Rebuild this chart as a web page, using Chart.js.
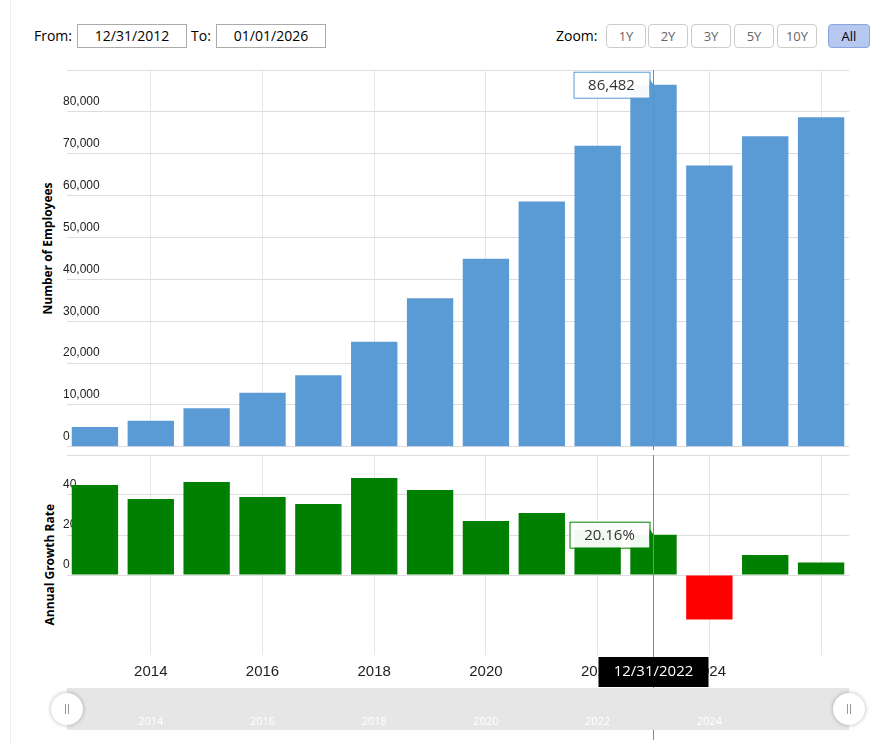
<!DOCTYPE html>
<html><head><meta charset="utf-8">
<script src="https://cdn.jsdelivr.net/npm/chart.js@4"></script>
<style>
body{margin:0;width:881px;height:745px;background:#fff;font-family:"Open Sans",sans-serif;position:relative;overflow:hidden}
.ctl{position:absolute;font-size:14px;color:#000}
.box{position:absolute;border:1px solid #aaa;font-size:14px;text-align:center;line-height:22px;height:22px}
.zb{position:absolute;top:24px;height:22px;width:38px;border:1px solid #ccc;border-radius:4px;font-size:13px;text-align:center;line-height:22px;color:#666;background:#fff}
canvas{position:absolute;left:0}
.ttl{position:absolute;font-size:12px;font-weight:bold;transform:rotate(-90deg);transform-origin:center;white-space:nowrap}
#leftline{position:absolute;left:10px;top:0;width:1px;height:745px;background:#eee}
</style></head><body>
<div id="leftline"></div>
<div class="ctl" style="left:34px;top:26px">From:</div>
<div class="box" style="left:77px;top:24px;width:108px">12/31/2012</div>
<div class="ctl" style="left:191px;top:26px">To:</div>
<div class="box" style="left:216px;top:24px;width:108px">01/01/2026</div>
<div class="ctl" style="left:556px;top:26px">Zoom:</div>
<div class="zb" style="left:606px">1Y</div>
<div class="zb" style="left:648px">2Y</div>
<div class="zb" style="left:691px">3Y</div>
<div class="zb" style="left:734px">5Y</div>
<div class="zb" style="left:777px">10Y</div>
<div class="zb" style="left:828px;width:40px;background:#b6c8f0;border-color:#8aa4dc;color:#000">All</div>
<div class="ttl" style="left:-13px;top:246px;width:120px;text-align:center">Number of Employees</div>
<div class="ttl" style="left:-6px;top:562px;width:110px;text-align:center">Annual Growth Rate</div>
<canvas id="c1" width="881" height="390" style="top:60px;width:881px;height:390px"></canvas>
<canvas id="c2" width="881" height="295" style="top:445px;width:881px;height:295px"></canvas>
<script>
const dates = ['12/31/2012','12/31/2013','12/31/2014','12/31/2015','12/31/2016','12/31/2017','12/31/2018','12/31/2019','12/31/2020','12/31/2021','12/31/2022','12/31/2023','12/31/2024','12/31/2025'];
const yearTicks = ['','2014','','2016','','2018','','2020','','2022','','2024','',''];
const employees = [4700,6200,9200,12900,17100,25100,35500,44900,58600,71900,86482,67200,74200,78700];
const growth = [45,38,46.5,39,35.5,48.5,42.5,27,31,22.7,20.16,-22.2,10,6.2];
const hoverIndex = 10;

const PL = 67, PR = 32;
const gridColor = (ctx) => (ctx.index % 2 === 1 ? '#e6e6e6' : 'rgba(0,0,0,0)');

function crosshair(label, fmt, boxW) {
    return {
        id:'cross',
        afterDraw(chart) {
            const c = chart.ctx;
            const el = chart.getDatasetMeta(0).data[hoverIndex];
            const a = chart.chartArea;
            c.save();
            c.strokeStyle = '#888'; c.lineWidth = 1;
            c.beginPath(); c.moveTo(el.x, a.top); c.lineTo(el.x, chart.height); c.stroke();
            const v = chart.data.datasets[0].data[hoverIndex];
            const py = chart.scales.y.getPixelForValue(v);
            const bx = el.x - boxW - 4, by = py - 13;
            c.fillStyle = 'rgba(255,255,255,0.95)';
            c.strokeStyle = label;
            c.fillRect(bx, by, boxW, 26);
            c.strokeRect(bx + 0.5, by + 0.5, boxW, 26);
            c.fillStyle = label;
            c.beginPath(); c.moveTo(bx + boxW, py - 6); c.lineTo(el.x, py); c.lineTo(bx + boxW, py + 6); c.fill();
            c.fillStyle = '#333'; c.font = '15px "Open Sans"'; c.textAlign = 'center'; c.textBaseline = 'middle';
            c.fillText(fmt(v), bx + boxW / 2, py + 1);
            c.restore();
        }
    };
}

new Chart(document.getElementById('c1'), {
    type:'bar',
    data:{labels:dates, datasets:[{data:employees, backgroundColor:'#5b9bd5', categoryPercentage:1, barPercentage:0.83}]},
    options:{
        animation:false, responsive:false,
        layout:{padding:{left:PL, right:PR, top:10, bottom:0}},
        plugins:{legend:{display:false}, tooltip:{enabled:false}},
        scales:{
            x:{display:true, ticks:{display:false}, border:{display:false}, grid:{offset:false, color:gridColor, drawTicks:false}},
            y:{min:0, max:90000, ticks:{stepSize:10000, mirror:true, labelOffset:-10, padding:-4, color:'#222', font:{size:12},
                callback:v => v === 90000 ? '' : v.toLocaleString('en-US')},
                border:{display:false}, grid:{color:'#ddd', drawTicks:false}, afterFit(s){s.width = 0;}}
        }
    },
    plugins:[crosshair('#5b9bd5', v => v.toLocaleString('en-US'), 76)]
});

new Chart(document.getElementById('c2'), {
    type:'bar',
    data:{labels:dates, datasets:[{data:growth, backgroundColor:growth.map(v => v < 0 ? '#ff0000' : '#008000'), categoryPercentage:1, barPercentage:0.83}]},
    options:{
        animation:false, responsive:false,
        layout:{padding:{left:PL, right:PR, top:10, bottom:0}},
        plugins:{legend:{display:false}, tooltip:{enabled:false}},
        scales:{
            x:{ticks:{color:'#222', font:{size:15}, padding:8, maxRotation:0, autoSkip:false, callback:(v, i) => yearTicks[i]},
                border:{display:false}, grid:{offset:false, color:gridColor, drawTicks:false}, afterFit(s){s.height = 85;}},
            y:{min:-40, max:60, ticks:{stepSize:20, mirror:true, labelOffset:-10, padding:-4, color:'#222', font:{size:12},
                callback:v => (v >= 0 && v <= 40) ? String(v) : ''},
                border:{display:false}, grid:{color:ctx => ctx.tick.value >= 0 ? '#ddd' : 'rgba(0,0,0,0)', drawTicks:false}, afterFit(s){s.width = 0;}}
        }
    },
    plugins:[crosshair('#008000', v => v.toFixed(2) + '%', 80), {
        id:'nav',
        afterDraw(chart) {
            const c = chart.ctx, a = chart.chartArea;
            const el = chart.getDatasetMeta(0).data[hoverIndex];
            const navTop = a.bottom + 33;
            c.save();
            c.fillStyle = '#e6e6e6'; c.fillRect(a.left, navTop, a.right - a.left, 42);
            c.fillStyle = '#fff'; c.font = '11px "Open Sans"'; c.textAlign = 'center';
            chart.scales.x.ticks.forEach((t, i) => { if (yearTicks[i]) c.fillText(yearTicks[i], chart.scales.x.getPixelForTick(i), navTop + 37); });
            [a.left, a.right].forEach(x => {
                c.beginPath(); c.arc(x, navTop + 21, 16, 0, Math.PI * 2);
                c.fillStyle = '#fff'; c.shadowColor = 'rgba(0,0,0,0.3)'; c.shadowBlur = 4; c.fill();
                c.shadowBlur = 0; c.strokeStyle = '#999';
                c.beginPath(); c.moveTo(x - 1.5, navTop + 16); c.lineTo(x - 1.5, navTop + 26); c.moveTo(x + 1.5, navTop + 16); c.lineTo(x + 1.5, navTop + 26); c.stroke();
            });
            c.fillStyle = '#000'; c.fillRect(el.x - 55, a.bottom + 2, 110, 30);
            c.fillStyle = '#fff'; c.font = '15px "Open Sans"'; c.textBaseline = 'middle';
            c.fillText(dates[hoverIndex], el.x, a.bottom + 17);
            c.restore();
        }
    }]
});
</script>
</body></html>
